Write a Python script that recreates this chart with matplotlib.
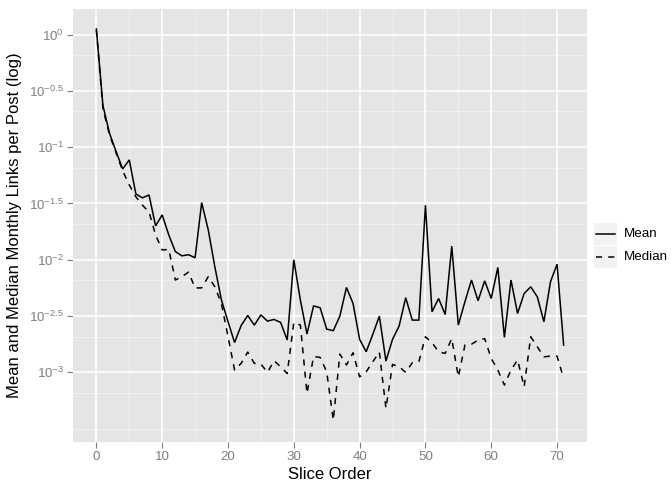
import numpy as np
import matplotlib
matplotlib.use('Agg')
import matplotlib.pyplot as plt
from matplotlib.patches import Rectangle
from matplotlib.lines import Line2D

plt.rcParams['font.family'] = ['Liberation Sans', 'DejaVu Sans']
plt.rcParams['mathtext.fontset'] = 'custom'
plt.rcParams['mathtext.rm'] = 'Liberation Sans'
plt.rcParams['mathtext.it'] = 'Liberation Sans:italic'
plt.rcParams['mathtext.bf'] = 'Liberation Sans:bold'

# values, as log10 of links per post
slice_order = list(range(72))
mean_log10 = [0.05, -0.63, -0.876, -1.039, -1.193, -1.113, -1.415, -1.45, -1.424, -1.699,
              -1.601, -1.779, -1.927, -1.965, -1.955, -1.982, -1.492, -1.734, -2.062, -2.356,
              -2.549, -2.735, -2.584, -2.495, -2.581, -2.49, -2.545, -2.53, -2.557, -2.713,
              -2.0, -2.358, -2.66, -2.41, -2.426, -2.616, -2.63, -2.5, -2.246, -2.388,
              -2.707, -2.817, -2.663, -2.5, -2.9, -2.707, -2.589, -2.337, -2.536, -2.536,
              -1.515, -2.462, -2.344, -2.486, -1.879, -2.58, -2.373, -2.18, -2.364, -2.187,
              -2.344, -2.068, -2.69, -2.18, -2.477, -2.3, -2.24, -2.329, -2.551, -2.196,
              -2.039, -2.758]
median_log10 = [0.04, -0.66, -0.89, -1.05, -1.21, -1.335, -1.44, -1.515, -1.575, -1.78,
                -1.913, -1.908, -2.18, -2.15, -2.11, -2.25, -2.25, -2.15, -2.24, -2.39,
                -2.68, -2.98, -2.92, -2.82, -2.92, -2.927, -3.0, -2.897, -2.95, -3.01,
                -2.557, -2.58, -3.187, -2.86, -2.867, -2.995, -3.425, -2.838, -2.935, -2.826,
                -3.04, -2.995, -2.906, -2.82, -3.32, -2.93, -2.95, -3.0, -2.915, -2.906,
                -2.684, -2.737, -2.817, -2.832, -2.7, -3.04, -2.758, -2.75, -2.714, -2.7,
                -2.877, -2.98, -3.113, -2.98, -2.89, -3.128, -2.684, -2.773, -2.862, -2.856,
                -2.856, -3.054]
y_break_exps = [-3, -2.5, -2, -1.5, -1, -0.5, 0]
x_breaks = [0, 10, 20, 30, 40, 50, 60, 70]
series_names = ['Mean', 'Median']

W, H = 671, 486
fig = plt.figure(figsize=(W / 100, H / 100), dpi=100)
ax = fig.add_axes([73 / W, 1 - 442 / H, 514 / W, 433 / H])
ax.set_facecolor('#E5E5E5')
for s in ax.spines.values():
    s.set_visible(False)

mean_vals = 10 ** np.array(mean_log10)
median_vals = 10 ** np.array(median_log10)

ax.set_yscale('log')
ax.plot(slice_order, mean_vals, color='black', lw=1.1, solid_joinstyle='miter', zorder=3)
ax.plot(slice_order, median_vals, color='black', lw=1.1, linestyle=(0, (4, 4)), zorder=3)

ax.set_xlim(-3.55, 74.55)
ax.set_ylim(10 ** -3.619, 10 ** 0.228)

# grid: majors white, minors lighter (minors at linear midpoints like ggplot)
major_y = 10 ** np.array(y_break_exps, dtype=float)
ext = np.concatenate([[10 ** -3.5], major_y])
minor_y = list((ext[:-1] + ext[1:]) / 2) + [10 ** -3.5]
for v in minor_y:
    ax.axhline(v, color='#F2F2F2', lw=0.6, zorder=1)
for v in range(5, 75, 10):
    ax.axvline(v, color='#F2F2F2', lw=0.6, zorder=1)
for v in major_y:
    ax.axhline(v, color='white', lw=1.2, zorder=2)
for v in x_breaks:
    ax.axvline(v, color='white', lw=1.2, zorder=2)

ax.set_xticks(x_breaks)
ax.set_xticklabels([str(v) for v in x_breaks])
ax.set_yticks(major_y)
ax.set_yticklabels([r'$10^{%s}$' % (('%g' % e).replace('-', '\u2212')) for e in y_break_exps])
ax.yaxis.set_minor_locator(matplotlib.ticker.NullLocator())
ax.tick_params(axis='both', colors='#7F7F7F', length=4, width=0.8, labelsize=9.6, pad=2.5)
ax.tick_params(axis='both', labelcolor='#7F7F7F')

ax.set_xlabel('Slice Order', fontsize=12, labelpad=3)
ax.set_ylabel('Mean and Median Monthly Links per Post (log)', fontsize=12, labelpad=5)

# legend drawn at the right, ggplot style
styles = ['-', (0, (4, 4))]
for i, name in enumerate(series_names):
    top = 223 + i * 23
    fig.patches.append(Rectangle((594 / W, 1 - (top + 22) / H), 22.5 / W, 22 / H,
                                 transform=fig.transFigure, facecolor='#F2F2F2',
                                 edgecolor='none'))
    yc = 1 - (top + 11) / H
    fig.lines.append(Line2D([596 / W, 614.5 / W], [yc, yc], transform=fig.transFigure,
                            color='black', lw=1.1, linestyle=styles[i]))
    fig.text(624 / W, yc, name, fontsize=9.6, va='center', ha='left')

fig.savefig('out.png', dpi=100)
